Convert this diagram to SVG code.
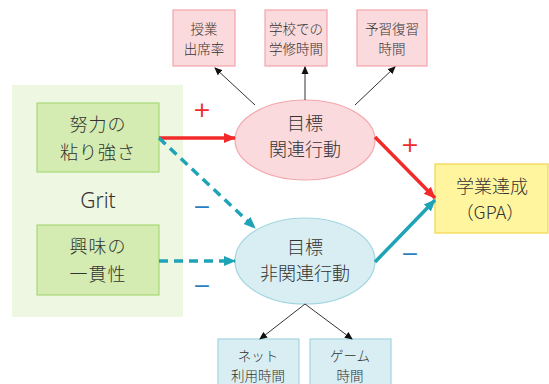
<svg xmlns="http://www.w3.org/2000/svg" width="549" height="384" viewBox="0 0 549 384">
<defs>
<style>
text{font-family:"Noto Sans CJK JP","Noto Sans",sans-serif;font-weight:300;fill:#333;text-anchor:middle;dominant-baseline:central}
.s{font-size:13.5px}
.m{font-size:18px}
.pink{fill:#fadadc;stroke:#f3a6ab;stroke-width:1.2}
.blue{fill:#d9eef2;stroke:#a2d6df;stroke-width:1.2}
.green{fill:#d4ecb1;stroke:#a9d977;stroke-width:1.2}
.thin{stroke:#333;stroke-width:1;fill:none}
.sign{font-size:22px;font-family:"DejaVu Sans",sans-serif;font-weight:400}
</style>
<marker id="ak" markerWidth="8" markerHeight="8" refX="7" refY="4" orient="auto" markerUnits="userSpaceOnUse"><path d="M0,0.5 L8,4 L0,7.5 Z" fill="#111"/></marker>
<marker id="ar" markerWidth="12" markerHeight="12" refX="11" refY="6" orient="auto" markerUnits="userSpaceOnUse"><path d="M0,1 L12,6 L0,11 Z" fill="#f22a2a"/></marker>
<marker id="at" markerWidth="12" markerHeight="12" refX="11" refY="6" orient="auto" markerUnits="userSpaceOnUse"><path d="M0,1 L12,6 L0,11 Z" fill="#1fa3b6"/></marker>
</defs>
<rect x="0" y="0" width="549" height="384" fill="#fff"/>
<g id="grit-panel">
<rect x="12" y="85" width="171" height="232" fill="#eef7e1"/>
<text x="98" y="200" style="font-size:21px;font-family:'Noto Sans',sans-serif">Grit</text>
</g>
<g id="effort">
<rect class="green" x="37" y="103" width="122" height="69"/>
<text class="m" x="98" y="123" letter-spacing="1">努力の</text>
<text class="m" x="98" y="151" letter-spacing="1">粘り強さ</text>
</g>
<g id="interest">
<rect class="green" x="37" y="225" width="122" height="70"/>
<text class="m" x="98" y="245" letter-spacing="1">興味の</text>
<text class="m" x="98" y="273" letter-spacing="1">一貫性</text>
</g>
<g id="attendance">
<rect class="pink" x="173" y="10" width="62" height="56"/>
<text class="s" x="204" y="28">授業</text>
<text class="s" x="204" y="48">出席率</text>
</g>
<g id="school-study">
<rect class="pink" x="265" y="10" width="62" height="56"/>
<text class="s" x="296" y="28">学校での</text>
<text class="s" x="296" y="48">学修時間</text>
</g>
<g id="review">
<rect class="pink" x="357" y="10" width="70" height="56"/>
<text class="s" x="392" y="28">予習復習</text>
<text class="s" x="392" y="48">時間</text>
</g>
<g id="goal-related">
<ellipse class="pink" cx="305" cy="140" rx="70" ry="40"/>
<text class="m" x="305" y="122">目標</text>
<text class="m" x="305" y="148">関連行動</text>
</g>
<g id="goal-unrelated">
<ellipse class="blue" cx="305" cy="261" rx="70" ry="43"/>
<text class="m" x="305" y="246">目標</text>
<text class="m" x="305" y="272">非関連行動</text>
</g>
<g id="gpa">
<rect x="435" y="164" width="113" height="69" fill="#fff59f" stroke="#f2d54a" stroke-width="1.2"/>
<text class="m" x="492" y="185">学業達成</text>
<text class="m" x="490" y="211">（GPA）</text>
</g>
<g id="net">
<rect class="blue" x="218" y="339" width="81" height="50"/>
<text class="s" x="258" y="355">ネット</text>
<text class="s" x="258" y="375">利用時間</text>
</g>
<g id="game">
<rect class="blue" x="310" y="339" width="81" height="50"/>
<text class="s" x="350" y="355">ゲーム</text>
<text class="s" x="350" y="375">時間</text>
</g>
<g id="connectors">
<line class="thin" x1="255" y1="105" x2="215" y2="68" marker-end="url(#ak)"/>
<line class="thin" x1="305" y1="100" x2="305" y2="67" marker-end="url(#ak)"/>
<line class="thin" x1="355" y1="105" x2="395" y2="67" marker-end="url(#ak)"/>
<line class="thin" x1="305" y1="304" x2="260" y2="339" marker-end="url(#ak)"/>
<line class="thin" x1="305" y1="304" x2="352" y2="339" marker-end="url(#ak)"/>
<line x1="159" y1="138" x2="235" y2="138" stroke="#f22a2a" stroke-width="3.5" marker-end="url(#ar)"/>
<line x1="159" y1="138" x2="255" y2="228" stroke="#1fa3b6" stroke-width="3.5" stroke-dasharray="9,6" marker-end="url(#at)"/>
<line x1="159" y1="261" x2="235" y2="261" stroke="#1fa3b6" stroke-width="3.5" stroke-dasharray="9,6" marker-end="url(#at)"/>
<line x1="375" y1="137" x2="435" y2="198" stroke="#f22a2a" stroke-width="3.5" marker-end="url(#ar)"/>
<line x1="375" y1="262" x2="435" y2="200" stroke="#1fa3b6" stroke-width="3.5" marker-end="url(#at)"/>
<text class="sign" x="202" y="109" style="fill:#f22a2a">+</text>
<text class="sign" x="202" y="206" style="fill:#2a7fc4">−</text>
<text class="sign" x="202" y="285" style="fill:#2a7fc4">−</text>
<text class="sign" x="410" y="144" style="fill:#f22a2a">+</text>
<text class="sign" x="410" y="253" style="fill:#2a7fc4">−</text>
</g>
</svg>
